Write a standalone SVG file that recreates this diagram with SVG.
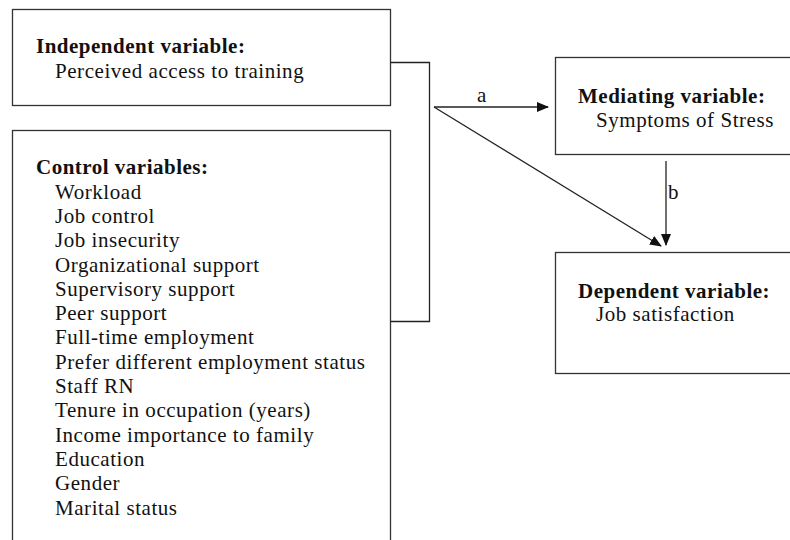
<svg xmlns="http://www.w3.org/2000/svg" width="790" height="540" viewBox="0 0 790 540">
<style>
.box{fill:#fff;stroke:#333;stroke-width:1.3}
text{font-family:"Liberation Serif","Times New Roman",serif;font-size:21px;letter-spacing:0.55px;fill:#111}
.h{font-weight:bold;letter-spacing:0.5px}
.ln{fill:none;stroke:#222;stroke-width:1.3}
</style>
<defs>
<marker id="ah" markerWidth="12" markerHeight="10" refX="11" refY="5" orient="auto" markerUnits="userSpaceOnUse">
<path d="M0,0 L12,5 L0,10 z" fill="#111"/>
</marker>
</defs>
<rect width="790" height="540" fill="#fff"/>
<g id="independent">
<rect class="box" x="12.5" y="9.5" width="378" height="96"/>
<text class="h" x="36" y="53">Independent variable:</text>
<text x="55" y="78">Perceived access to training</text>
</g>
<g id="control">
<rect class="box" x="12.5" y="130.5" width="378" height="420"/>
<text class="h" x="36" y="174">Control variables:</text>
<text x="55" y="199">Workload</text>
<text x="55" y="223">Job control</text>
<text x="55" y="247">Job insecurity</text>
<text x="55" y="272">Organizational support</text>
<text x="55" y="296">Supervisory support</text>
<text x="55" y="320">Peer support</text>
<text x="55" y="344">Full-time employment</text>
<text x="55" y="369">Prefer different employment status</text>
<text x="55" y="393">Staff RN</text>
<text x="55" y="417">Tenure in occupation (years)</text>
<text x="55" y="442">Income importance to family</text>
<text x="55" y="466">Education</text>
<text x="55" y="490">Gender</text>
<text x="55" y="515">Marital status</text>
</g>
<g id="mediating">
<rect class="box" x="555.5" y="57.5" width="240" height="97"/>
<text class="h" x="578" y="103">Mediating variable:</text>
<text x="596" y="127">Symptoms of Stress</text>
</g>
<g id="dependent">
<rect class="box" x="555.5" y="252.5" width="240" height="121"/>
<text class="h" x="578" y="298">Dependent variable:</text>
<text x="596" y="321">Job satisfaction</text>
</g>
<g id="connectors">
<path class="ln" d="M390.5,62.5 H429.5 V321.5 H390.5"/>
<line class="ln" x1="434" y1="107" x2="548" y2="107" marker-end="url(#ah)"/>
<line class="ln" x1="434" y1="107" x2="661" y2="246" marker-end="url(#ah)"/>
<line class="ln" x1="666" y1="161" x2="666" y2="245" marker-end="url(#ah)"/>
<text x="477" y="102">a</text>
<text x="668" y="199">b</text>
</g>
</svg>
